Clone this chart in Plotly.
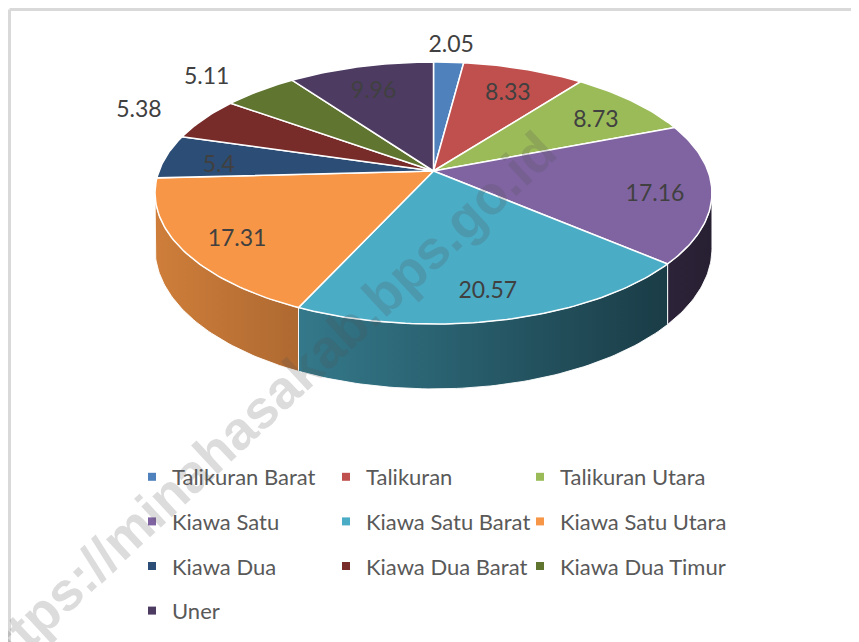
import math
import plotly.graph_objects as go

# ---- data ----
categories = ["Talikuran Barat", "Talikuran", "Talikuran Utara", "Kiawa Satu",
              "Kiawa Satu Barat", "Kiawa Satu Utara", "Kiawa Dua", "Kiawa Dua Barat",
              "Kiawa Dua Timur", "Uner"]
values = [2.05, 8.33, 8.73, 17.16, 20.57, 17.31, 5.4, 5.38, 5.11, 9.96]
labels = ["2.05", "8.33", "8.73", "17.16", "20.57", "17.31", "5.4", "5.38", "5.11", "9.96"]

# ---- style ----
colors = ["#4f81bd", "#c0504d", "#9bbb59", "#8064a2", "#4bacc6",
          "#f79646", "#2c4d75", "#772c2a", "#5f7530", "#4d3b62"]
label_outside = [True, False, False, False, False, False, False, True, True, False]
FONT = "Lato"
TXT = "#404040"

OFF = 8                      # page body margin
SW, SH = 859, 642            # screen size
W, H = SW - OFF, SH - OFF    # figure size

# 3D pie geometry (screen pixel space)
cx, cy = 433.5, 171.0
A, B = 274.5, 127.3
P = 0.168           # perspective
DEPTH = 54.0        # thickness


def proj(u, v, z=0.0):
    w = 1.0 / (1.0 - P * v)
    return cx + A * u * w, cy + (B * v + z) * w


def pt(theta, r=1.0, z=0.0):
    return proj(r * math.sin(theta), -r * math.cos(theta), z)


def arc(t1, t2, z=0.0):
    n = max(2, int(abs(t2 - t1) / (math.pi / 180)) + 2)
    return [pt(t1 + (t2 - t1) * k / (n - 1), 1.0, z) for k in range(n)]


def hex2rgb(h):
    h = h.lstrip("#")
    return tuple(int(h[i:i + 2], 16) for i in (0, 2, 4))


def shade(h, f):
    r, g, b = hex2rgb(h)
    return f"rgb({int(r*f)},{int(g*f)},{int(b*f)})"


def light(x):
    return max(0.25, 0.84 - (x - 157) * 0.000952)


total = sum(values)
bounds = []
acc = 0.0
for v in values:
    t1 = acc / total * 2 * math.pi
    acc += v
    t2 = acc / total * 2 * math.pi
    bounds.append((t1, t2))

fig = go.Figure()

# visible side range
ta = math.acos(-P)
tb = 2 * math.pi - ta

# sides
for i, (t1, t2) in enumerate(bounds):
    s1, s2 = max(t1, ta), min(t2, tb)
    if s2 <= s1:
        continue
    top = arc(s1, s2)
    bot = arc(s1, s2, DEPTH)[::-1]
    poly = top + bot + [top[0]]
    xs = [p[0] for p in poly]
    ys = [p[1] for p in poly]
    xl, xr = min(xs), max(xs)
    fig.add_trace(go.Scatter(
        x=xs, y=ys, mode="lines", line=dict(color="rgba(255,255,255,0.9)", width=1),
        fill="toself",
        fillgradient=dict(type="horizontal",
                          colorscale=[[0, shade(colors[i], light(xl))],
                                      [1, shade(colors[i], light(xr))]]),
        showlegend=False, hoverinfo="skip"))

# tops
for i, (t1, t2) in enumerate(bounds):
    poly = [proj(0, 0)] + arc(t1, t2) + [proj(0, 0)]
    fig.add_trace(go.Scatter(
        x=[p[0] for p in poly], y=[p[1] for p in poly], mode="lines",
        line=dict(color="white", width=1.5), fill="toself", fillcolor=colors[i],
        showlegend=False, hoverinfo="text", text=f"{categories[i]}: {values[i]}"))

# labels
lx, ly, lpos = [], [], []
for i, (t1, t2) in enumerate(bounds):
    tm = (t1 + t2) / 2
    if label_outside[i]:
        x, y = pt(tm, 1.2)
        u = math.sin(tm)
        pos = "middle left" if u < -0.2 else ("middle right" if u > 0.2 else "middle center")
        y += 2
    else:
        x, y = pt(tm, 0.8)
        pos = "middle center"
        y += 7
    lx.append(x)
    ly.append(y)
    lpos.append(pos)
fig.add_trace(go.Scatter(x=lx, y=ly, mode="text", text=labels, textposition=lpos,
                         textfont=dict(family=FONT, size=23, color=TXT),
                         showlegend=False, hoverinfo="skip"))

# legend entries: three columns, four rows
legend_names = ["legend", "legend2", "legend3"]
for i, name in enumerate(categories):
    fig.add_trace(go.Scatter(x=[None], y=[None], mode="markers", name=name,
                             marker=dict(symbol="square", size=8, color=colors[i]),
                             legend=legend_names[i % 3], legendgroup=f"g{i}",
                             showlegend=True))

col_x = [132, 326, 520]   # screen px of legend left edges
leg_top = 456             # screen px of legend top
layout_legends = {}
for k, name in enumerate(legend_names):
    layout_legends[name] = dict(
        orientation="v", x=(col_x[k] - OFF) / W, xanchor="left",
        y=1 - (leg_top - OFF) / H, yanchor="top", tracegroupgap=13,
        font=dict(family=FONT, size=22, color="#595959"),
        bgcolor="rgba(0,0,0,0)", itemclick=False, itemdoubleclick=False)

fig.update_layout(
    width=W, height=H, margin=dict(l=0, r=0, t=0, b=0),
    paper_bgcolor="white", plot_bgcolor="white",
    xaxis=dict(range=[OFF, SW], visible=False, fixedrange=True),
    yaxis=dict(range=[SH, OFF], visible=False, fixedrange=True),
    **layout_legends,
    annotations=[dict(text="<b>https://minahasakab.bps.go.id</b>", x=262, y=407, xref="x", yref="y",
                      showarrow=False, textangle=-43,
                      font=dict(family="Liberation Sans", size=54, color="rgba(80,80,80,0.2)"))],
    shapes=[dict(type="line", x0=9.5, x1=9.5, y0=9.5, y1=SH, xref="x", yref="y",
                 line=dict(color="#d9d9d9", width=3)),
            dict(type="line", x0=9.5, x1=SW, y0=9.5, y1=9.5, xref="x", yref="y",
                 line=dict(color="#d9d9d9", width=3))],
)

fig.write_html("out.html")
